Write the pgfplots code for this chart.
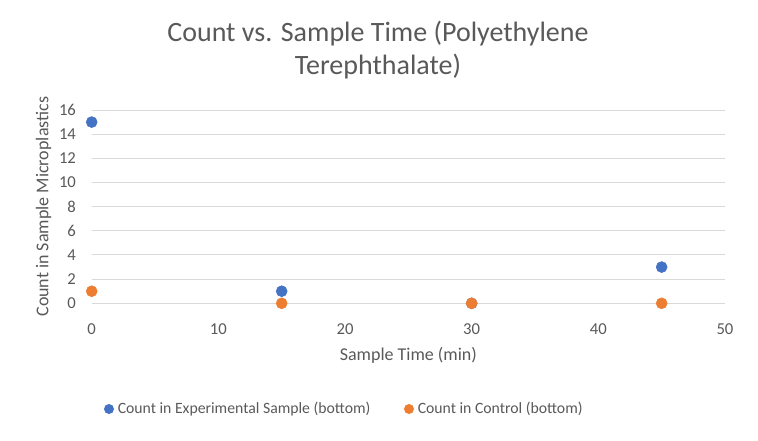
\documentclass[border=0pt]{standalone}
\usepackage{pgfplots}
\pgfplotsset{compat=1.18}
\usepackage{fontspec}
\setmainfont{Carlito}
\definecolor{txt}{HTML}{595959}
\definecolor{grd}{HTML}{D9D9D9}
\definecolor{cblue}{HTML}{4472C4}
\definecolor{corange}{HTML}{ED7D31}
\begin{document}
\begin{tikzpicture}[x=0.75pt,y=0.75pt]
\path[use as bounding box] (0,0) rectangle (758,440);
\begin{axis}[
  at={(91.7pt*0.75,{(440-303.3)*0.75pt})}, anchor=south west,
  scale only axis, width={(725-91.7)*0.75pt}, height={(303.3-110)*0.75pt},
  xmin=0, xmax=50, ymin=0, ymax=16,
  xtick={0,10,...,50}, ytick={0,2,...,16},
  axis line style={draw=none},
  major tick length=0pt,
  ymajorgrids, grid style={grd, line width=0.75pt},
  tick label style={font=\fontsize{12.5}{14}\selectfont, text=txt},
  /pgf/number format/assume math mode=true,
  xticklabel style={yshift=-12pt},
  yticklabel style={xshift=-8.3pt},
  xlabel={Sample Time (min)}, ylabel={Count in Sample Microplastics},
  label style={font=\fontsize{13.5}{15}\selectfont, text=txt},
  xlabel style={yshift=-2.5pt},
  ylabel style={yshift=-1pt},
  clip=false,
]
\addplot[only marks, mark=*, mark size=5.5*0.75pt, color=cblue] coordinates {(0,15) (15,1) (30,0) (45,3)};
\addplot[only marks, mark=*, mark size=5.5*0.75pt, color=corange] coordinates {(0,1) (15,0) (30,0) (45,0)};
\end{axis}
\node[text=txt, font=\fontsize{21}{25}\selectfont, anchor=base] at (378,440-41.7) {Count vs. Sample Time (Polyethylene};
\node[text=txt, font=\fontsize{21}{25}\selectfont, anchor=base] at (378,440-75) {Terephthalate)};
\fill[cblue] (109,440-409) circle (5);
\node[anchor=west, text=txt, font=\fontsize{11.8}{14}\selectfont, inner sep=0] at (117.5,440-409) {Count in Experimental Sample (bottom)};
\fill[corange] (409,440-409) circle (5);
\node[anchor=west, text=txt, font=\fontsize{11.8}{14}\selectfont, inner sep=0] at (417.5,440-409) {Count in Control (bottom)};
\end{tikzpicture}
\end{document}
